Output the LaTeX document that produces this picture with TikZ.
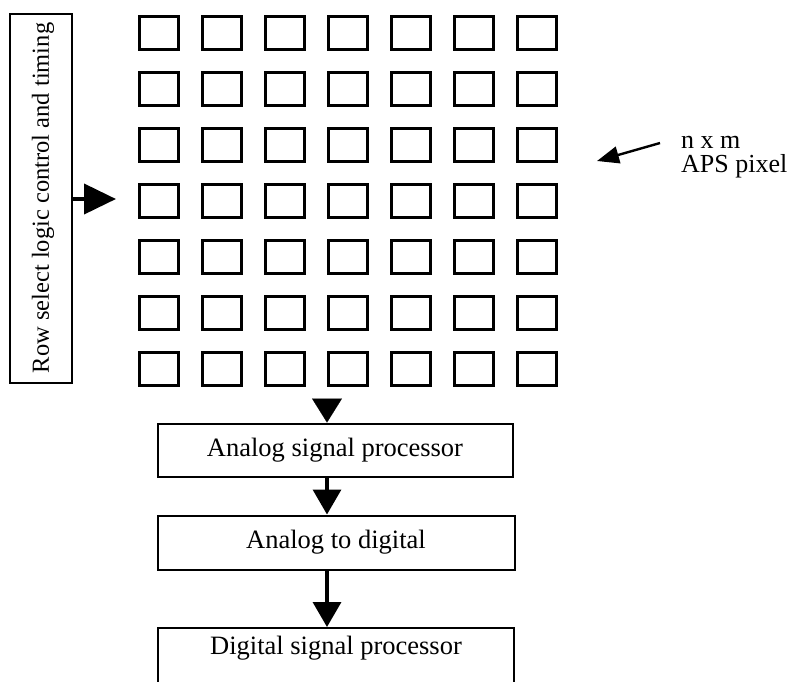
\documentclass[tikz,border=0pt]{standalone}
\usepackage{fontspec}
\setmainfont{Liberation Serif}
\usetikzlibrary{arrows.meta}
\begin{document}
\begin{tikzpicture}[x=1pt,y=-1pt,
  pix/.style={draw, line width=3pt, minimum width=39pt, minimum height=33pt, inner sep=0pt, anchor=north west},
  blockbox/.style={draw, line width=2pt, inner sep=0pt, font=\fontsize{26.5}{28}\selectfont},
  bigarrow/.style={line width=3.5pt, -{Triangle[length=25pt,width=28pt]}},
  lbl/.style={font=\fontsize{26}{28}\selectfont}]
\useasboundingbox (0,0) rectangle (789,681);
\clip (0,0) rectangle (789,681);
% left control box
\node[blockbox, minimum width=62pt, minimum height=369pt] (ctrl) at (40.5,198) {};
\node[font=\fontsize{24.5}{26}\selectfont, rotate=90] (ctrltext) at (43,198) {Row select logic control and timing};
% pixel grid
\foreach \i in {0,...,6}{
  \foreach \j in {0,...,6}{
    \node[pix] (p-\i-\j) at ({137.5+63*\j},{14.5+56*\i}) {};
  }
}
% arrow from control to grid
\coordinate (ctip) at (116,199);
\draw[line width=4pt, -{Triangle[length=32pt,width=30pt]}] (ctrl.east |- ctip) -- (ctip);
% label
\node[lbl, align=left, anchor=north west, inner sep=0pt] (nm) at (681,136) {n x m\\[-4pt]APS pixel};
\coordinate (ltail) at (660,143);
\coordinate (ltip) at (597,161);
\draw[line width=2.4pt, -{Triangle[length=22pt,width=17pt]}] (ltail) -- (ltip);
% processing chain
\node[blockbox, minimum width=355pt, minimum height=53pt] (asp) at (335,450) {Analog signal processor};
\node[blockbox, minimum width=357pt, minimum height=54pt] (adc) at (336,542.5) {Analog to digital};
\node[blockbox, minimum width=356pt, anchor=north, text height=26pt, text depth=46pt] (dsp) at (336,627) {Digital signal processor};
\coordinate (a1) at (327,400);
\draw[-{Triangle[length=24pt,width=30pt]}, line width=0.1pt] (a1) -- (a1 |- asp.north);
\coordinate (a2) at (327,0);
\draw[bigarrow] (a2 |- asp.south) -- (a2 |- adc.north);
\draw[bigarrow] (a2 |- adc.south) -- (a2 |- dsp.north);
\end{tikzpicture}
\end{document}
